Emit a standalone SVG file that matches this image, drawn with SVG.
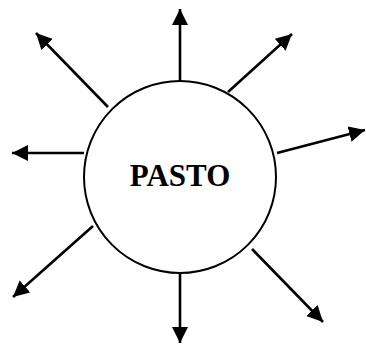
<svg xmlns="http://www.w3.org/2000/svg" width="366" height="344" viewBox="0 0 366 344">
<style>
.c{fill:#fff;stroke:#000;stroke-width:2}
.a{stroke:#000;stroke-width:2.6;fill:none;marker-end:url(#ah)}
.t{font-family:"Liberation Serif",serif;font-weight:bold;font-size:31px;fill:#000}
</style>
<defs>
<marker id="ah" markerUnits="userSpaceOnUse" markerWidth="17" markerHeight="17" refX="16" refY="8" orient="auto">
<path d="M0,0 L16,8 L0,16 z" fill="#000"/>
</marker>
</defs>
<rect width="366" height="344" fill="#fff"/>
<g id="connectors">
<line class="a" x1="180" y1="84" x2="180" y2="9"/>
<line class="a" x1="108" y1="107" x2="36" y2="33"/>
<line class="a" x1="228" y1="92" x2="292" y2="34"/>
<line class="a" x1="277" y1="153" x2="365" y2="130"/>
<line class="a" x1="84" y1="153" x2="12" y2="153"/>
<line class="a" x1="93" y1="226" x2="13" y2="297"/>
<line class="a" x1="180" y1="273" x2="180" y2="343"/>
<line class="a" x1="252" y1="249" x2="323" y2="322"/>
</g>
<g id="pasto">
<circle class="c" cx="180" cy="177" r="96"/>
<text class="t" x="180" y="185.5" text-anchor="middle">PASTO</text>
</g>
</svg>
